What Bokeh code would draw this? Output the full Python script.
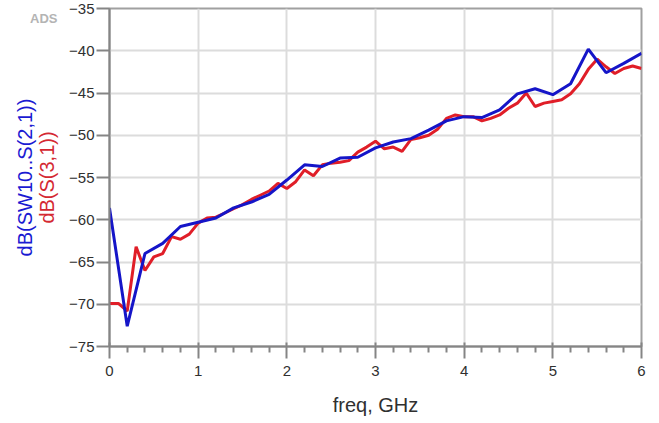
import math
from bokeh.plotting import figure
from bokeh.models import Range1d, FixedTicker, Title, LinearAxis
from bokeh.embed import file_html
from bokeh.resources import INLINE

# ---- data ----
freq_sw10 = [0.0, 0.2, 0.4, 0.6, 0.8, 1.0, 1.2, 1.4, 1.6, 1.8, 2.0, 2.2, 2.4, 2.6, 2.8,
             3.0, 3.2, 3.4, 3.6, 3.8, 4.0, 4.2, 4.4, 4.6, 4.8, 5.0, 5.2, 5.4, 5.6, 5.8, 6.0]
db_sw10_s21 = [-58.6, -72.6, -64.0, -62.8, -60.8, -60.3, -59.8, -58.6, -57.9, -57.0,
               -55.3, -53.5, -53.7, -52.7, -52.6, -51.5, -50.8, -50.4, -49.4, -48.3,
               -47.8, -47.9, -47.0, -45.1, -44.5, -45.2, -43.9, -39.8, -42.6, -41.5, -40.3]

freq_s31 = [0.0, 0.1, 0.2, 0.3, 0.4, 0.5, 0.6, 0.7, 0.8, 0.9,
            1.0, 1.1, 1.2, 1.3, 1.4, 1.5, 1.6, 1.7, 1.8, 1.9,
            2.0, 2.1, 2.2, 2.3, 2.4, 2.5, 2.6, 2.7, 2.8, 2.9,
            3.0, 3.1, 3.2, 3.3, 3.4, 3.5, 3.6, 3.7, 3.8, 3.9,
            4.0, 4.1, 4.2, 4.3, 4.4, 4.5, 4.6, 4.7, 4.8, 4.9,
            5.0, 5.1, 5.2, 5.3, 5.4, 5.5, 5.6, 5.7, 5.8, 5.9, 6.0]
db_s31 = [-69.9, -69.9, -70.8, -63.2, -66.0, -64.4, -64.0, -62.0, -62.3, -61.7,
          -60.4, -59.8, -59.7, -59.2, -58.7, -58.2, -57.6, -57.1, -56.6, -55.7,
          -56.3, -55.5, -54.1, -54.8, -53.5, -53.3, -53.2, -53.0, -52.0, -51.4,
          -50.7, -51.6, -51.4, -51.9, -50.5, -50.3, -50.0, -49.3, -48.0, -47.6,
          -47.8, -47.8, -48.3, -48.0, -47.6, -46.8, -46.2, -45.0, -46.6, -46.2,
          -46.0, -45.8, -45.1, -43.9, -42.2, -41.0, -41.9, -42.7, -42.1, -41.8, -42.1]

x_ticks = [0, 1, 2, 3, 4, 5, 6]
x_minor = [0.2, 0.4, 0.6, 0.8, 1.2, 1.4, 1.6, 1.8, 2.2, 2.4, 2.6, 2.8, 3.2, 3.4, 3.6, 3.8,
           4.2, 4.4, 4.6, 4.8, 5.2, 5.4, 5.6, 5.8]
y_ticks = [-75, -70, -65, -60, -55, -50, -45, -40, -35]

FONT = "Liberation Sans"
BLUE = "#1515c8"
RED = "#e01e28"

p = figure(width=659, height=423, output_backend="svg", toolbar_location=None,
           x_range=Range1d(0, 6), y_range=Range1d(-75, -35),
           min_border_left=109, min_border_right=18, min_border_top=8, min_border_bottom=77,
           background_fill_color="white", border_fill_color="white")

p.outline_line_color = "#a0a0a0"
p.outline_line_width = 2

for ax in (p.xaxis[0], p.yaxis[0]):
    ax.axis_line_color = "#858585"
    ax.axis_line_width = 2
    ax.major_tick_line_color = "#858585"
    ax.major_tick_line_width = 2
    ax.minor_tick_line_color = "#858585"
    ax.minor_tick_line_width = 2
    ax.major_label_text_font = FONT
    ax.major_label_text_font_size = "15px"
    ax.major_label_text_color = "#303030"

p.xaxis.ticker = FixedTicker(ticks=x_ticks, minor_ticks=x_minor)
p.xaxis.major_tick_in = 4
p.xaxis.major_tick_out = 12
p.xaxis.minor_tick_in = 0
p.xaxis.minor_tick_out = 6
p.xaxis.major_label_standoff = 7
p.xaxis.axis_label = "freq, GHz"
p.xaxis.axis_label_text_font = FONT
p.xaxis.axis_label_text_font_size = "20px"
p.xaxis.axis_label_text_font_style = "normal"
p.xaxis.axis_label_text_color = "#303030"
p.xaxis.axis_label_standoff = 15

p.yaxis.ticker = FixedTicker(ticks=y_ticks, minor_ticks=[])
p.yaxis.major_tick_in = 0
p.yaxis.major_tick_out = 13
p.yaxis.major_label_standoff = 2

p.grid.grid_line_color = "#dcdcdc"
p.grid.grid_line_width = 2

p.line(freq_s31, db_s31, line_color=RED, line_width=3)
p.line(freq_sw10, db_sw10_s21, line_color=BLUE, line_width=3)

# spacer between tick labels and the y labels
p.add_layout(Title(text=" ", text_font_size="1px", standoff=4), "left")
# y-axis labels (two coloured lines)
p.add_layout(Title(text="dB(S(3,1))", align="center", vertical_align="top",
                   text_color="#d42832", text_font=FONT, text_font_size="20px",
                   text_font_style="normal", standoff=0), "left")
p.add_layout(Title(text="dB(SW10..S(2,1))", align="center", vertical_align="bottom",
                   text_color="#1a1ad2", text_font=FONT, text_font_size="20px",
                   text_font_style="normal", standoff=0), "left")

# "ADS" watermark, drawn as the single tick label of a bare outer axis
ADS_AT = -36.2
ads_axis = LinearAxis(ticker=FixedTicker(ticks=[ADS_AT], minor_ticks=[]),
                      major_label_overrides={ADS_AT: "ADS"},
                      axis_line_color=None, major_tick_line_color=None,
                      minor_tick_line_color=None,
                      major_tick_in=0, major_tick_out=0, minor_tick_in=0, minor_tick_out=0,
                      major_label_standoff=-46,
                      major_label_text_font=FONT, major_label_text_font_style="bold",
                      major_label_text_font_size="13px", major_label_text_color="#b4b4b4")
p.add_layout(ads_axis, "left")

open("out.html", "w").write(file_html(p, INLINE))
